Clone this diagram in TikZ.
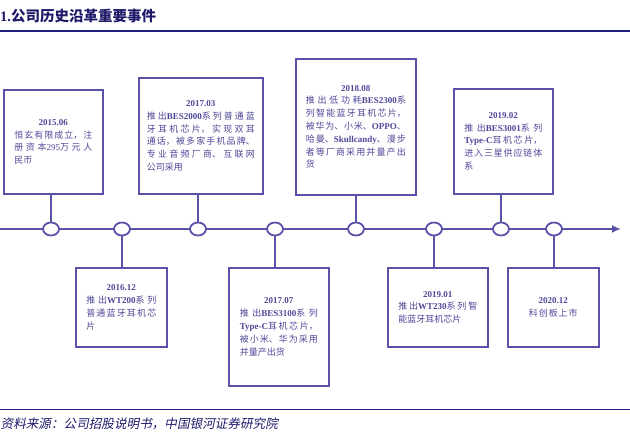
\documentclass[tikz,border=0pt]{standalone}
\usepackage{fontspec}
\setmainfont{Noto Sans CJK SC}
\newfontfamily\latfont{Liberation Serif}
\newfontfamily\srcfont[FakeSlant=0.2]{Noto Sans CJK SC}
\usetikzlibrary{shapes.geometric,arrows.meta}
\XeTeXlinebreaklocale "zh"
\XeTeXlinebreakskip=0pt plus 3pt
\parindent=0pt
\definecolor{boxcol}{HTML}{5A52A8}
\definecolor{txtcol}{HTML}{4E4898}
\definecolor{titlecol}{HTML}{1E1B6A}
\definecolor{rulecol}{HTML}{221E80}
\newcommand\lb[1]{{\latfont\bfseries #1}}
\newcommand\lr[1]{{\latfont #1}}
\newcommand\evdate[1]{{\centering\latfont\bfseries #1\par}}
\begin{document}
\begin{tikzpicture}[x=1pt,y=-1pt,
  evbox/.style={draw=boxcol, line width=1.6pt, fill=white, inner sep=0pt,
    anchor=north west, align=justify, text=txtcol,
    font=\fontsize{9}{12.8}\selectfont},
  dot/.style={ellipse, draw=boxcol, line width=1.8pt, fill=white,
    minimum width=16pt, minimum height=13pt, inner sep=0pt},
  conn/.style={draw=boxcol, line width=1.8pt},
  rule/.style={draw=rulecol, line width=1.5pt}]
\useasboundingbox (0,0) rectangle (630,433);
% header and footer
\node[anchor=west, inner sep=0pt, text=titlecol,
  font=\fontsize{14.5}{16}\selectfont\bfseries] (title) at (0,16)
  {\lb{1.}公司历史沿革重要事件};
\coordinate (hl) at (0,31); \coordinate (hr) at (630,31);
\draw[rule] (hl) -- (hr);
\coordinate (fl) at (0,409.5); \coordinate (fr) at (630,409.5);
\draw[rule] (fl) -- (fr);
\node[anchor=west, inner sep=0pt, text=titlecol,
  font=\srcfont\fontsize{12.6}{14}\selectfont] (src) at (0.5,424)
  {资料来源：公司招股说明书，中国银河证券研究院};
% timeline
\coordinate (ts) at (0,229); \coordinate (te) at (621,229);
\draw[conn, -{Latex[length=9pt,width=8pt]}] (ts) -- (te);
\foreach \n/\x in {1/51,2/122,3/198,4/275,5/356,6/434,7/501,8/554}
  \node[dot] (e\n) at (\x,229) {};
% boxes
\node[evbox, minimum width=99pt, minimum height=104pt, text width=78pt] (b1) at (3,89)
  {\evdate{2015.06}恒玄有限成立，注\linebreak 册资本\lr{295}万元人\linebreak 民币};
\node[evbox, minimum width=124pt, minimum height=116pt, text width=108pt] (b2) at (138,77)
  {\evdate{2017.03}推出\lb{BES2000}系列普通蓝\linebreak 牙耳机芯片，实现双耳\linebreak 通话，被多家手机品牌、\linebreak 专业音频厂商、互联网\linebreak 公司采用};
\node[evbox, minimum width=120pt, minimum height=136pt, text width=100pt] (b3) at (295,58)
  {\evdate{2018.08}推出低功耗\lb{BES2300}系\linebreak 列智能蓝牙耳机芯片，\linebreak 被华为、小米、\lb{OPPO}、\linebreak 哈曼、\lb{Skullcandy}、漫步\linebreak 者等厂商采用并量产出\linebreak 货};
\node[evbox, minimum width=99pt, minimum height=105pt, text width=78pt] (b4) at (453,88)
  {\evdate{2019.02}推出\lb{BES3001}系列\linebreak \lb{Type-C}耳机芯片，\linebreak 进入三星供应链体\linebreak 系};
\node[evbox, minimum width=91pt, minimum height=79pt, text width=70pt] (b5) at (75,267)
  {\evdate{2016.12}推出\lb{WT200}系列\linebreak 普通蓝牙耳机芯\linebreak 片};
\node[evbox, minimum width=100pt, minimum height=118pt, text width=78pt] (b6) at (228,267)
  {\evdate{2017.07}推出\lb{BES3100}系列\linebreak \lb{Type-C}耳机芯片，\linebreak 被小米、华为采用\linebreak 并量产出货};
\node[evbox, minimum width=100pt, minimum height=79pt, text width=79pt] (b7) at (387,267)
  {\evdate{2019.01}推出\lb{WT230}系列智\linebreak 能蓝牙耳机芯片};
\node[evbox, align=center, minimum width=91pt, minimum height=79pt, text width=60pt] (b8) at (507,267)
  {\lb{2020.12}\\科创板上市};
% connectors
\draw[conn] (e1.north) -- (e1 |- b1.south);
\draw[conn] (e3.north) -- (e3 |- b2.south);
\draw[conn] (e5.north) -- (e5 |- b3.south);
\draw[conn] (e7.north) -- (e7 |- b4.south);
\draw[conn] (e2.south) -- (e2 |- b5.north);
\draw[conn] (e4.south) -- (e4 |- b6.north);
\draw[conn] (e6.south) -- (e6 |- b7.north);
\draw[conn] (e8.south) -- (e8 |- b8.north);
\end{tikzpicture}
\end{document}
